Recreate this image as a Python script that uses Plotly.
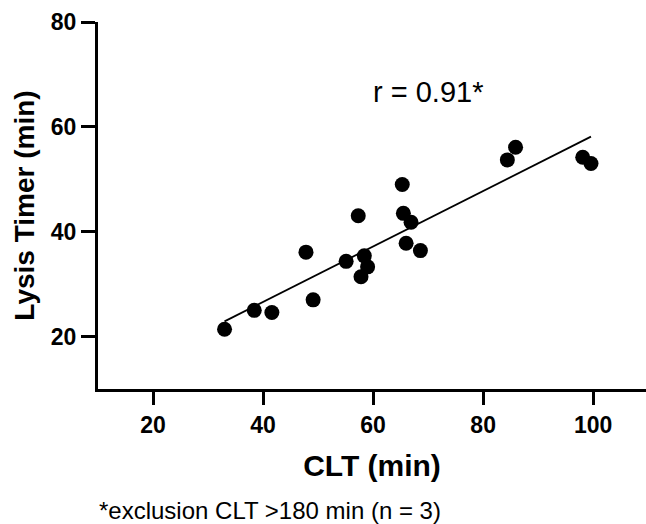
import numpy as np
import plotly.graph_objects as go

clt = [33.0, 38.4, 41.6, 47.8, 49.1, 55.1, 57.3, 57.8, 58.4, 59.0,
       65.3, 65.5, 66.9, 66.0, 68.6, 84.4, 85.9, 98.1, 99.6]
lysis = [21.4, 25.0, 24.6, 36.1, 27.0, 34.35, 43.05, 31.4, 35.4, 33.3,
         49.0, 43.5, 41.8, 37.8, 36.4, 53.7, 56.1, 54.2, 53.0]
x_ticks = [20, 40, 60, 80, 100]
y_ticks = [20, 40, 60, 80]
r_label = "r = 0.91*"
footnote = "*exclusion CLT >180 min (n = 3)"

slope, intercept = np.polyfit(clt, lysis, 1)
xf = np.array([min(clt), max(clt)])
yf = slope * xf + intercept

L, T, B = 98, 22, 135
W, H = 646, 524
pw, ph = W - L, H - T - B

fig = go.Figure()
fig.add_trace(go.Scatter(x=xf, y=yf, mode="lines",
                         line=dict(color="black", width=1.8), hoverinfo="skip"))
fig.add_trace(go.Scatter(x=clt, y=lysis, mode="markers",
                         marker=dict(color="black", size=15, line=dict(width=0))))

font = "Liberation Sans, Arial, sans-serif"
fig.update_layout(
    width=W, height=H,
    margin=dict(l=L, r=0, t=T, b=B, autoexpand=False),
    plot_bgcolor="white", paper_bgcolor="white",
    showlegend=False,
    font=dict(family=font, color="black"),
    xaxis=dict(range=[10, 109.6], tickvals=x_ticks, showgrid=False, zeroline=False,
               automargin=False,
               showline=True, linecolor="black", linewidth=3,
               ticks="outside", ticklen=13, tickwidth=3, tickcolor="black",
               tickfont=dict(size=23, family=font, weight="bold"),
               title=dict(text="<b>CLT (min)</b>", font=dict(size=30), standoff=19)),
    yaxis=dict(range=[10, 80], tickvals=y_ticks, showgrid=False, zeroline=False,
               automargin=False,
               showline=True, linecolor="black", linewidth=3,
               ticks="outside", ticklen=14, tickwidth=3, tickcolor="black",
               tickfont=dict(size=23, family=font, weight="bold"),
               title=dict(text="<b>Lysis Timer (min)</b>", font=dict(size=28), standoff=9)),
)
fig.add_annotation(x=70, y=66.7, xref="x", yref="y", text=r_label, showarrow=False,
                   font=dict(size=29, family=font, color="black"))
fig.add_annotation(x=(97 - L) / pw, y=-(510 - (T + ph)) / ph, xref="paper", yref="paper",
                   text=footnote, showarrow=False, xanchor="left", yanchor="middle",
                   font=dict(size=24, family=font, color="black"))
fig.write_html("out.html", config={"displayModeBar": False},
               post_script="document.body.style.margin='0';document.body.style.overflow='hidden';")
